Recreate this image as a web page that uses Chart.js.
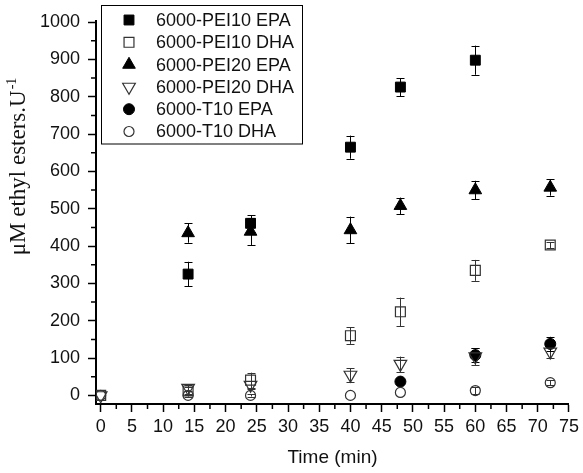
<!DOCTYPE html>
<html>
<head>
<meta charset="utf-8">
<script src="https://cdn.jsdelivr.net/npm/chart.js@4.4.1/dist/chart.umd.min.js"></script>
<style>
html,body{margin:0;padding:0;background:#fff;}
#wrap{width:583px;height:473px;position:relative;}
</style>
</head>
<body>
<div id="wrap"><canvas id="c" width="583" height="473"></canvas></div>
<script>
// ---- data ----
const times = [0, 14, 24, 40, 48, 60, 72];
const seriesNames = ['6000-PEI10 EPA', '6000-PEI10 DHA', '6000-PEI20 EPA', '6000-PEI20 DHA', '6000-T10 EPA', '6000-T10 DHA'];
const pei10EPA    = [null, 325, 461, 665, 826, 898, null];
const pei10EPAErr = [0, 33, 22, 31, 24, 39, 0];
const pei10DHA    = [0, 12, 41, 160, 224, 335, 403];
const pei10DHAErr = [0, 10, 20, 22, 38, 28, 8];
const pei20EPA    = [null, 435, 439, 443, 508, 550, 557];
const pei20EPAErr = [0, 26, 36, 36, 22, 25, 22];
const pei20DHA    = [0, 20, 28, 55, 84, 104, 117];
const pei20DHAErr = [0, 8, 10, 18, 20, 22, 18];
const t10EPA      = [null, null, null, null, 37, 108, 138];
const t10EPAErr   = [0, 0, 0, 0, 5, 18, 19];
const t10DHA      = [0, 0, 0, 0, 8, 13, 34];
const t10DHAErr   = [0, 3, 3, 0, 0, 10, 6];
const xTickStep = 5;
const yTickStep = 100;

const BLACK = '#000';
const OPEN = '#333';

function pts(vals){ return times.map((t,i)=>({x:t, y:vals[i]})).filter(p=>p.y!==null); }
function errs(vals, e){ return times.map((t,i)=>({x:t, y:vals[i], e:e[i]})).filter(p=>p.y!==null); }

const styles = [
  {style:'rect', rot:0, filled:true, r:7},
  {style:'rect', rot:0, filled:false, r:7},
  {style:'triangle', rot:0, filled:true, r:7.3},
  {style:'triangle', rot:180, filled:false, r:7.3},
  {style:'circle', rot:0, filled:true, r:5.5},
  {style:'circle', rot:0, filled:false, r:5},
];
const values = [pei10EPA, pei10DHA, pei20EPA, pei20DHA, t10EPA, t10DHA];
const errors = [pei10EPAErr, pei10DHAErr, pei20EPAErr, pei20DHAErr, t10EPAErr, t10DHAErr];

const datasets = seriesNames.map((name,i)=>{
  const s = styles[i];
  const col = s.filled ? BLACK : OPEN;
  return {
    label: name,
    data: pts(values[i]),
    errorData: errs(values[i], errors[i]),
    markerInfo: s,
    pointStyle: s.style,
    pointRotation: s.rot,
    pointRadius: s.r,
    pointHoverRadius: s.r,
    pointBackgroundColor: s.filled ? BLACK : 'rgba(0,0,0,0)',
    pointBorderColor: col,
    pointBorderWidth: s.filled ? 1 : 1.2,
    showLine: false,
    order: s.filled ? 1 : 0
  };
});

const errorBarPlugin = {
  id: 'errorBars',
  beforeDatasetsDraw(chart){
    const ctx = chart.ctx, xs = chart.scales.x, ys = chart.scales.y;
    ctx.save();
    chart.data.datasets.forEach(ds=>{
      ctx.strokeStyle = ds.markerInfo.filled ? BLACK : OPEN;
      ctx.lineWidth = 1;
      ds.errorData.forEach(p=>{
        if(!p.e) return;
        const px = Math.round(xs.getPixelForValue(p.x)) + 0.5;
        const y1 = ys.getPixelForValue(p.y + p.e);
        const y2 = ys.getPixelForValue(p.y - p.e);
        ctx.beginPath();
        ctx.moveTo(px, y1); ctx.lineTo(px, y2);
        ctx.moveTo(px-4, Math.round(y1)+0.5); ctx.lineTo(px+4, Math.round(y1)+0.5);
        ctx.moveTo(px-4, Math.round(y2)+0.5); ctx.lineTo(px+4, Math.round(y2)+0.5);
        ctx.stroke();
      });
    });
    ctx.restore();
  }
};

const minorTickPlugin = {
  id: 'minorTicks',
  afterDraw(chart){
    const ctx = chart.ctx, xs = chart.scales.x, ys = chart.scales.y;
    const a = chart.chartArea;
    ctx.save();
    ctx.strokeStyle = BLACK; ctx.lineWidth = 1.5;
    ctx.beginPath();
    for(let v = xTickStep/2; v < xs.max; v += xTickStep){
      const px = xs.getPixelForValue(v);
      ctx.moveTo(px, a.bottom); ctx.lineTo(px, a.bottom + 5);
    }
    for(let v = yTickStep/2; v < ys.max; v += yTickStep){
      const py = ys.getPixelForValue(v);
      ctx.moveTo(a.left, py); ctx.lineTo(a.left - 5, py);
    }
    ctx.stroke();
    ctx.restore();
  }
};

function drawMarker(ctx, s, x, y){
  const col = s.filled ? BLACK : OPEN;
  ctx.save();
  ctx.fillStyle = col; ctx.strokeStyle = col; ctx.lineWidth = s.filled ? 1 : 1.2;
  ctx.beginPath();
  if(s.style === 'rect'){
    const h = s.r * Math.SQRT1_2;
    ctx.rect(x-h, y-h, 2*h, 2*h);
  } else if(s.style === 'triangle'){
    const r = s.r, dir = s.rot ? -1 : 1;
    ctx.moveTo(x, y - dir*r);
    ctx.lineTo(x - r*Math.sqrt(3)/2, y + dir*r/2);
    ctx.lineTo(x + r*Math.sqrt(3)/2, y + dir*r/2);
    ctx.closePath();
  } else {
    ctx.arc(x, y, s.r, 0, Math.PI*2);
  }
  if(s.filled) ctx.fill();
  ctx.stroke();
  ctx.restore();
}

const legendPlugin = {
  id: 'boxLegend',
  afterDraw(chart){
    const ctx = chart.ctx;
    ctx.save();
    ctx.strokeStyle = BLACK; ctx.lineWidth = 1;
    ctx.strokeRect(101.5, 5.5, 201, 138.5);
    ctx.font = '18px "Liberation Sans", Arial, sans-serif';
    ctx.fillStyle = '#111';
    ctx.textBaseline = 'middle';
    ctx.textAlign = 'left';
    chart.data.datasets.forEach((ds,i)=>{
      const y = 20 + i*22.3;
      drawMarker(ctx, ds.markerInfo, 129, y);
      ctx.fillStyle = '#111';
      ctx.fillText(ds.label, 156, y + 1);
    });
    ctx.restore();
  }
};

const yTitlePlugin = {
  id: 'yTitle',
  afterDraw(chart){
    const ctx = chart.ctx;
    const main = '\u03bcM ethyl esters.U', sup = '-1';
    ctx.save();
    ctx.translate(19, 167);
    ctx.rotate(-Math.PI/2);
    ctx.fillStyle = '#111';
    ctx.textBaseline = 'alphabetic';
    ctx.textAlign = 'left';
    ctx.font = '23px "Liberation Serif", "Times New Roman", serif';
    const w1 = ctx.measureText(main).width;
    ctx.font = '14px "Liberation Serif", "Times New Roman", serif';
    const w2 = ctx.measureText(sup).width;
    const x0 = -(w1 + w2)/2;
    ctx.font = '23px "Liberation Serif", "Times New Roman", serif';
    ctx.fillText(main, x0, 6);
    ctx.font = '14px "Liberation Serif", "Times New Roman", serif';
    ctx.fillText(sup, x0 + w1 + 1, -3);
    ctx.restore();
  }
};

const tickFont = {family: '"Liberation Sans", Arial, sans-serif', size: 18};

new Chart(document.getElementById('c'), {
  type: 'scatter',
  data: { datasets },
  plugins: [errorBarPlugin, minorTickPlugin, legendPlugin, yTitlePlugin],
  options: {
    responsive: false,
    animation: false,
    devicePixelRatio: 1,
    layout: { padding: {top: 21, right: 12, left: 0, bottom: 0} },
    plugins: { legend: {display: false}, tooltip: {enabled: false} },
    scales: {
      x: {
        type: 'linear', position: 'bottom',
        min: -0.75, max: 75,
        afterFit(scale){ scale.height = 69; },
        ticks: { stepSize: xTickStep, includeBounds: false, font: tickFont, color: '#111', padding: 4, maxRotation: 0, autoSkip: false, callback: v => String(v) },
        grid: { drawOnChartArea: false, drawTicks: true, tickLength: 8, tickWidth: 1.5, tickColor: BLACK },
        border: { display: true, color: BLACK, width: 2 },
        title: { display: true, text: 'Time (min)', color: '#111', font: {family: '"Liberation Sans", Arial, sans-serif', size: 19}, padding: {top: 0, bottom: 4} }
      },
      y: {
        type: 'linear', position: 'left',
        min: -23, max: 1003,
        afterFit(scale){ scale.width = 96; },
        ticks: { stepSize: yTickStep, includeBounds: false, font: tickFont, color: '#111', padding: 8, callback: v => String(v) },
        grid: { drawOnChartArea: false, drawTicks: true, tickLength: 8, tickWidth: 1.5, tickColor: BLACK },
        border: { display: true, color: BLACK, width: 2 }
      }
    }
  }
});
</script>
</body>
</html>
